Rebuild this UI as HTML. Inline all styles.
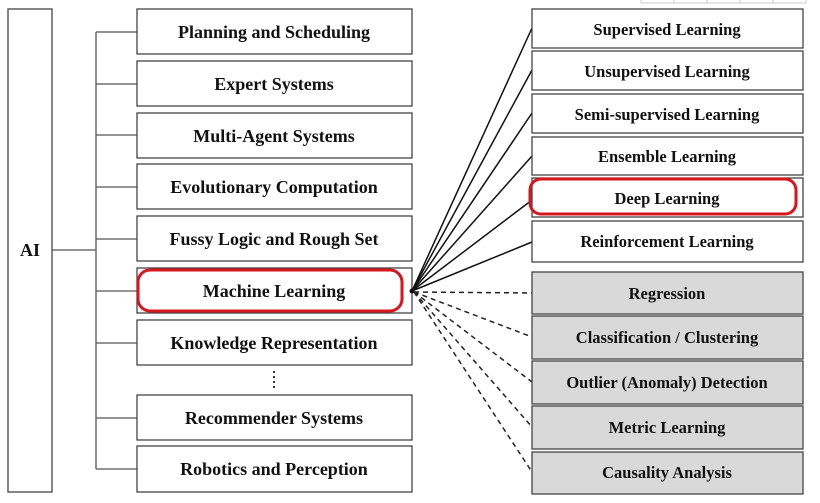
<!DOCTYPE html>
<html><head><meta charset="utf-8"><style>
html,body{margin:0;padding:0;background:#fff;}
svg text{font-family:"Liberation Serif",serif;font-weight:bold;fill:#111;}
</style></head><body>
<svg width="820" height="498" viewBox="0 0 820 498" xmlns="http://www.w3.org/2000/svg">
<g stroke="#444" stroke-width="1.3" fill="#fff">
<rect x="8" y="9" width="44" height="483"/>
</g>
<text x="30" y="256" font-size="18" text-anchor="middle">AI</text>
<g stroke="#555" stroke-width="1.3" fill="none">
<line x1="52" y1="250" x2="96" y2="250"/>
<line x1="96" y1="32" x2="96" y2="469"/>
<line x1="96" y1="32" x2="137" y2="32"/>
<line x1="96" y1="84" x2="137" y2="84"/>
<line x1="96" y1="135" x2="137" y2="135"/>
<line x1="96" y1="187" x2="137" y2="187"/>
<line x1="96" y1="239" x2="137" y2="239"/>
<line x1="96" y1="291" x2="137" y2="291"/>
<line x1="96" y1="343" x2="137" y2="343"/>
<line x1="96" y1="418" x2="137" y2="418"/>
<line x1="96" y1="469" x2="137" y2="469"/>
</g>
<g stroke="#444" stroke-width="1.3" fill="#fff">
<rect x="137" y="9" width="275" height="45"/>
<rect x="137" y="61" width="275" height="45"/>
<rect x="137" y="113" width="275" height="45"/>
<rect x="137" y="164" width="275" height="45"/>
<rect x="137" y="216" width="275" height="45"/>
<rect x="137" y="268" width="275" height="45"/>
<rect x="137" y="320" width="275" height="45"/>
<rect x="137" y="395" width="275" height="45"/>
<rect x="137" y="446" width="275" height="46"/>
</g>
<line x1="274" y1="371" x2="274" y2="391" stroke="#333" stroke-width="2" stroke-dasharray="2,3"/>
<g font-size="18" text-anchor="middle">
<text x="274" y="38">Planning and Scheduling</text>
<text x="274" y="90">Expert Systems</text>
<text x="274" y="142">Multi-Agent Systems</text>
<text x="274" y="193">Evolutionary Computation</text>
<text x="274" y="245">Fussy Logic and Rough Set</text>
<text x="274" y="297">Machine Learning</text>
<text x="274" y="349">Knowledge Representation</text>
<text x="274" y="424">Recommender Systems</text>
<text x="274" y="475">Robotics and Perception</text>
</g>
<rect x="138" y="270" width="264" height="41" rx="12" fill="none" stroke="#d7161e" stroke-width="3"/>
<g stroke="#111" stroke-width="1.5">
<line x1="412" y1="291" x2="532" y2="28"/>
<line x1="412" y1="291" x2="532" y2="70"/>
<line x1="412" y1="291" x2="532" y2="113"/>
<line x1="412" y1="291" x2="532" y2="156"/>
<line x1="412" y1="291" x2="532" y2="200"/>
<line x1="412" y1="291" x2="532" y2="242"/>
</g>
<g stroke="#222" stroke-width="1.5" stroke-dasharray="5,4">
<line x1="414" y1="292" x2="532" y2="293"/>
<line x1="414" y1="292" x2="532" y2="337"/>
<line x1="414" y1="292" x2="532" y2="382"/>
<line x1="414" y1="292" x2="532" y2="427"/>
<line x1="414" y1="292" x2="532" y2="472"/>
</g>
<circle cx="412" cy="291" r="2.5" fill="#111"/>
<g stroke="#444" stroke-width="1.3" fill="#fff">
<rect x="532" y="9" width="271" height="39"/>
<rect x="532" y="51" width="271" height="39"/>
<rect x="532" y="94" width="271" height="39"/>
<rect x="532" y="137" width="271" height="38"/>
<rect x="532" y="178" width="271" height="39"/>
<rect x="532" y="221" width="271" height="41"/>
</g>
<g stroke="#444" stroke-width="1.3" fill="#d9d9d9">
<rect x="532" y="272" width="271" height="42"/>
<rect x="532" y="316" width="271" height="43"/>
<rect x="532" y="361" width="271" height="43"/>
<rect x="532" y="406" width="271" height="43"/>
<rect x="532" y="452" width="271" height="42"/>
</g>
<g font-size="16.5" text-anchor="middle">
<text x="667" y="35">Supervised Learning</text>
<text x="667" y="77">Unsupervised Learning</text>
<text x="667" y="120">Semi-supervised Learning</text>
<text x="667" y="162">Ensemble Learning</text>
<text x="667" y="204">Deep Learning</text>
<text x="667" y="247">Reinforcement Learning</text>
<text x="667" y="299">Regression</text>
<text x="667" y="343">Classification / Clustering</text>
<text x="667" y="388">Outlier (Anomaly) Detection</text>
<text x="667" y="433">Metric Learning</text>
<text x="667" y="478">Causality Analysis</text>
</g>
<rect x="530" y="179" width="266" height="35" rx="11" fill="none" stroke="#d7161e" stroke-width="3"/>
<g stroke="#ccc" stroke-width="1" fill="none">
<line x1="641" y1="3" x2="806" y2="3"/>
<line x1="641" y1="0" x2="641" y2="3"/>
<line x1="674" y1="0" x2="674" y2="3"/>
<line x1="707" y1="0" x2="707" y2="3"/>
<line x1="740" y1="0" x2="740" y2="3"/>
<line x1="773" y1="0" x2="773" y2="3"/>
<line x1="806" y1="0" x2="806" y2="3"/>
</g>
</svg>
</body></html>
